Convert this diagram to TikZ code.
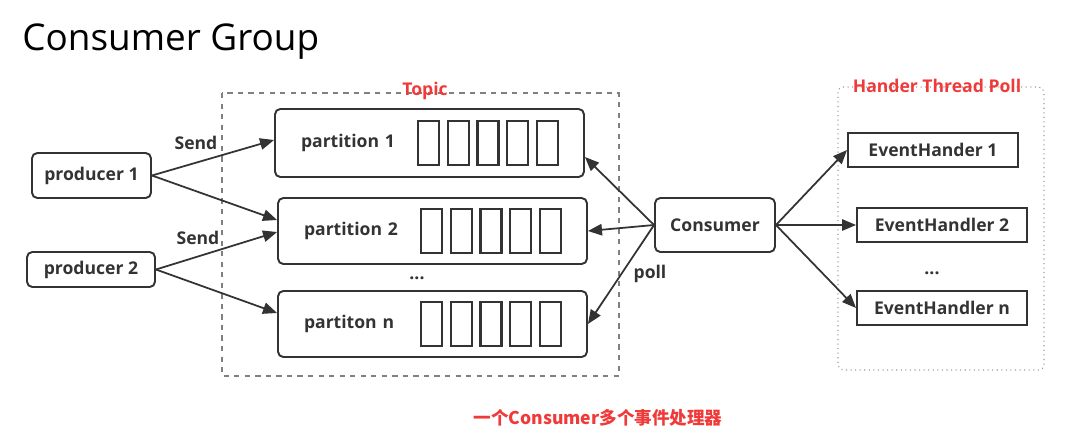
\documentclass[tikz,border=0pt]{standalone}
\usepackage{fontspec}
\setmainfont{Open Sans}
\newfontfamily\cjk{Noto Sans CJK SC}
\usetikzlibrary{calc,arrows.meta}

\definecolor{linecol}{HTML}{333333}
\definecolor{redtext}{HTML}{F03A3A}

\tikzset{
  box/.style={draw=linecol, line width=1.1pt, rounded corners=3pt, inner sep=0pt,
    font=\bfseries\fontsize{10}{12}\selectfont, text=linecol},
  partbox/.style={box, align=left, inner xsep=0.52cm, text width=5.14cm,
    minimum width=6.18cm, minimum height=1.32cm},
  handlerbox/.style={box, rounded corners=0pt, minimum width=3.4cm, minimum height=0.68cm},
  slot/.style={draw=linecol, line width=1.2pt},
  flow/.style={draw=linecol, line width=1pt, -{Triangle[length=8pt,width=6.5pt]}},
  tag/.style={font=\bfseries\fontsize{10}{12}\selectfont, text=linecol},
  redtag/.style={font=\bfseries\fontsize{10}{12}\selectfont, text=redtext}
}

\begin{document}
\begin{tikzpicture}[x=0.02cm, y=-0.02cm]
  \useasboundingbox (0,0) rectangle (1073,447);

  % Titel
  \node[anchor=base west, inner sep=0pt, font=\fontsize{21}{25}\selectfont] (title) at (22,50) {Consumer Group};

  % Topic-Rahmen
  \draw[gray, dashed, line width=0.6pt] (222,93) rectangle (619,376);
  \node[redtag] (topic) at (425,91) {Topic};

  % Produzenten
  \node[box, minimum width=2.38cm, minimum height=0.9cm] (prod1) at (91.5,175.5) {producer 1};
  \node[box, minimum width=2.56cm, minimum height=0.7cm] (prod2) at (91,269.5) {producer 2};

  % Partitionen
  \node[partbox, minimum height=1.36cm] (part1) at (429.5,143) {partition 1};
  \node[partbox] (part2) at (432.5,231) {partition 2};
  \node[partbox] (partn) at (432.5,324) {partiton n};
  \node[tag] (pdots) at (417,278) {...};

  % Nachrichten-Slots
  \foreach \p in {part1,part2,partn}
    \foreach \i in {0,...,4}
      \draw[slot] ($(\p.west)+(144+29.7*\i,-22)$) rectangle ++(21,44);

  % Consumer
  \node[box, minimum width=2.4cm, minimum height=1.08cm] (cons) at (715,225) {Consumer};

  % Handler-Pool
  \draw[gray!80, dotted, line width=0.6pt, rounded corners=3pt] (838,87) rectangle (1044,370);
  \node[redtag] (pool) at (937,86) {Hander Thread Poll};
  \node[handlerbox] (eh1) at (933,150) {EventHander 1};
  \node[handlerbox] (eh2) at (942,225) {EventHandler 2};
  \node[handlerbox] (ehn) at (942,308) {EventHandler n};
  \node[tag] (hdots) at (932,273) {...};

  % Send
  \draw[flow] (prod1.east) -- ($(part1.west)+(0,-3)$);
  \draw[flow] (prod1.east) -- ($(part2.west)+(0,-11)$);
  \draw[flow] (prod2.east) -- ($(part2.west)+(0,1)$);
  \draw[flow] (prod2.east) -- ($(partn.west)+(0,-11)$);
  \node[tag] (send1) at (196,143) {Send};
  \node[tag] (send2) at (198,238) {Send};

  % poll
  \draw[flow] (cons.west) -- ($(part1.east)+(0,14)$);
  \draw[flow] (cons.west) -- (part2.east);
  \draw[flow] (cons.west) -- (partn.east);
  \node[tag] (poll) at (650,274) {poll};

  % Verteilung an Handler
  \draw[flow] (cons.east) -- (eh1.west);
  \draw[flow] (cons.east) -- (eh2.west);
  \draw[flow] (cons.east) -- (ehn.west);

  % Unterschrift
  \node[text=redtext, font=\cjk\bfseries\fontsize{10}{12}\selectfont] (caption) at (598,418) {一个Consumer多个事件处理器};
\end{tikzpicture}
\end{document}
